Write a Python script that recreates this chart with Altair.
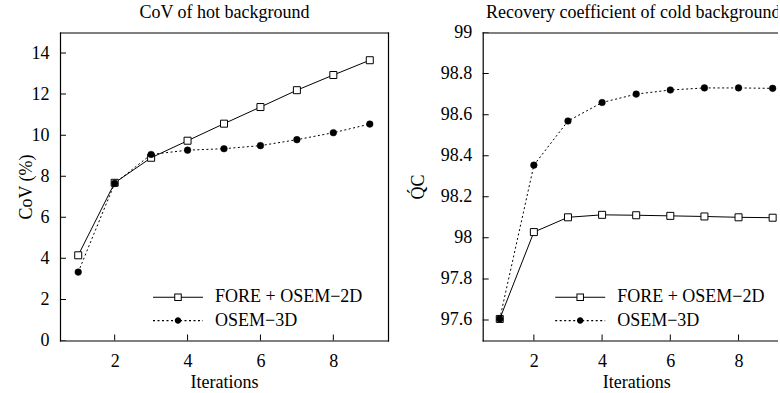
import altair as alt
import pandas as pd

# ---------------- data ----------------
iterations = [1, 2, 3, 4, 5, 6, 7, 8, 9]
series_names = ["FORE + OSEM\u22122D", "OSEM\u22123D"]

cov_fore = [4.15, 7.68, 8.90, 9.73, 10.56, 11.37, 12.19, 12.93, 13.65]
cov_osem = [3.33, 7.65, 9.06, 9.27, 9.34, 9.49, 9.78, 10.12, 10.54]

rc_fore = [97.605, 98.028, 98.100, 98.112, 98.110, 98.107, 98.104, 98.100, 98.098]
rc_osem = [97.605, 98.354, 98.569, 98.659, 98.700, 98.720, 98.730, 98.730, 98.728]

x_ticks = [2, 4, 6, 8]
cov_ticks = [0, 2, 4, 6, 8, 10, 12, 14]
rc_ticks = [97.6, 97.8, 98.0, 98.2, 98.4, 98.6, 98.8, 99.0]


def long_df(fore, osem):
    rows = []
    for i, a, b in zip(iterations, fore, osem):
        rows.append({"it": i, "val": a, "series": series_names[0]})
        rows.append({"it": i, "val": b, "series": series_names[1]})
    return pd.DataFrame(rows)


FONT = "Liberation Serif"
FS = 18
FRAME_W = 1.2

# legend glyphs (line + marker) drawn as filled outlines in a unit box
def _rect(x0, x1, h):
    return f"M{x0:.3f},{-h:.3f}H{x1:.3f}V{h:.3f}H{x0:.3f}Z"

_H = 0.022
_fore_sym = (_rect(-1, -0.14, _H) + _rect(0.14, 1, _H)
             + "M-0.15,-0.15H0.15V0.15H-0.15Z"
             + "M-0.11,-0.11V0.11H0.11V-0.11Z")
_dash = []
_p = -1.0
while _p < 1.0:
    _dash.append(_rect(_p, min(_p + 0.08, 1.0), _H))
    _p += 0.18
_osem_sym = "".join(_dash) + "M0.13,0A0.13,0.13,0,1,1,-0.13,0A0.13,0.13,0,1,1,0.13,0Z"
LEGEND_SHAPES = [_fore_sym, _osem_sym]

TXT = dict(labelFont=FONT, labelFontSize=FS, labelColor="black",
           titleFont=FONT, titleFontSize=FS, titleFontWeight="normal", titleColor="black")
FRAME_AX = dict(domain=True, domainColor="black", domainWidth=FRAME_W, domainCap="square",
                grid=False, ticks=False, tickSize=0)
ROW_GAP = 23.4


def panel(df, title, ytitle, ydomain, yticks, width, xdomain, legend_x, legend_y,
          ytitle_pad, title_x=None):
    xs = alt.Scale(domain=xdomain, nice=False, zero=False)
    ys = alt.Scale(domain=ydomain, nice=False, zero=False)

    x_main = alt.X("it:Q", scale=xs, axis=alt.Axis(
        orient="bottom", values=x_ticks, title="Iterations", labelPadding=11.5,
        titlePadding=3.5, **FRAME_AX, **TXT))
    y_main = alt.Y("val:Q", scale=ys, axis=alt.Axis(
        orient="left", values=yticks, format="~f", title=ytitle, labelPadding=11,
        titlePadding=ytitle_pad, **FRAME_AX, **TXT))
    x_plain = alt.X("it:Q", scale=xs, axis=None)
    y_plain = alt.Y("val:Q", scale=ys, axis=None)

    base = alt.Chart(df)
    f0 = alt.datum.series == series_names[0]
    f1 = alt.datum.series == series_names[1]

    line_fore = base.transform_filter(f0).mark_line(
        color="black", strokeWidth=1).encode(x=x_main, y=y_main)
    line_osem = base.transform_filter(f1).mark_line(
        color="black", strokeWidth=1, strokeDash=[2, 2.5]).encode(x=x_plain, y=y_plain)
    squares = base.transform_filter(f0).mark_point(
        shape="square", size=49, filled=True, fill="white", stroke="black",
        strokeWidth=1, opacity=1).encode(x=x_plain, y=y_plain)
    circles = base.transform_filter(f1).mark_point(
        shape="circle", size=44, filled=True, fill="black", stroke="black",
        strokeWidth=0.5, opacity=1).encode(x=x_plain, y=y_plain)

    # inward tick marks on the bottom edge (half of each tick is clipped away)
    xtick_layer = alt.Chart(pd.DataFrame({"t": x_ticks})).mark_tick(
        orient="vertical", size=12, thickness=1, color="black", clip=True, opacity=1
    ).encode(
        x=alt.X("t:Q", scale=xs, axis=None),
        y=alt.YDatum(ydomain[0], type="quantitative", scale=ys, axis=None),
    )
    # inward tick marks on the left edge + right frame line
    ytick_layer = alt.Chart(pd.DataFrame({"t": yticks})).mark_tick(
        orient="horizontal", size=12, thickness=1, color="black", clip=True, opacity=1
    ).encode(
        x=alt.XDatum(xdomain[0], type="quantitative", scale=xs, axis=None),
        y=alt.Y("t:Q", scale=ys, axis=alt.Axis(
            orient="right", labels=False, title=None, **FRAME_AX)),
    )

    def legend_entry(k, x_enc):
        return base.transform_filter("false").mark_point(
            filled=True, color="black", opacity=1).encode(
            x=x_enc, y=y_plain,
            shape=alt.Shape(
                "series:N",
                scale=alt.Scale(domain=[series_names[k]], range=[LEGEND_SHAPES[k]]),
                legend=alt.Legend(title=None, orient="none", legendX=legend_x,
                                  legendY=legend_y + k * ROW_GAP,
                                  symbolSize=2500, symbolFillColor="black",
                                  symbolStrokeWidth=0, symbolStrokeColor="transparent",
                                  labelFont=FONT, labelFontSize=FS, labelColor="black",
                                  labelOffset=12, padding=0),
            ),
        )

    top_kw = dict(orient="top", labels=False, title=title, titlePadding=14.6,
                  titleBaseline="alphabetic", titleLimit=2000)
    if title_x is not None:
        top_kw["titleX"] = title_x
    x_top = alt.X("it:Q", scale=xs, axis=alt.Axis(**top_kw, **FRAME_AX, **TXT))
    leg0 = legend_entry(0, x_top)
    leg1 = legend_entry(1, x_plain)

    return alt.layer(line_fore, line_osem, squares, circles, xtick_layer, ytick_layer,
                     leg0, leg1).resolve_scale(shape="independent").resolve_legend(
        shape="independent").properties(width=width, height=308)


left = panel(long_df(cov_fore, cov_osem), "CoV of hot background", "CoV (%)",
             [0, 15], cov_ticks, 328, [0.5, 9.5], 93, 239.7, -4)
right = panel(long_df(rc_fore, rc_osem), "Recovery coefficient of cold background",
              "Q\u0301C", [97.5, 99.0], rc_ticks, 307, [0.5, 9.5], 72.5, 239.7, 13,
              title_x=150)

chart = alt.hconcat(left, right, spacing=20.7).resolve_scale(
    shape="independent"
).resolve_legend(
    shape="independent"
).configure(
    font=FONT, padding={"left": 17, "top": 3.5, "right": -12, "bottom": 0}
).configure_view(
    stroke=None
)

chart.save("out.html", embed_options={"renderer": "svg", "actions": False})
